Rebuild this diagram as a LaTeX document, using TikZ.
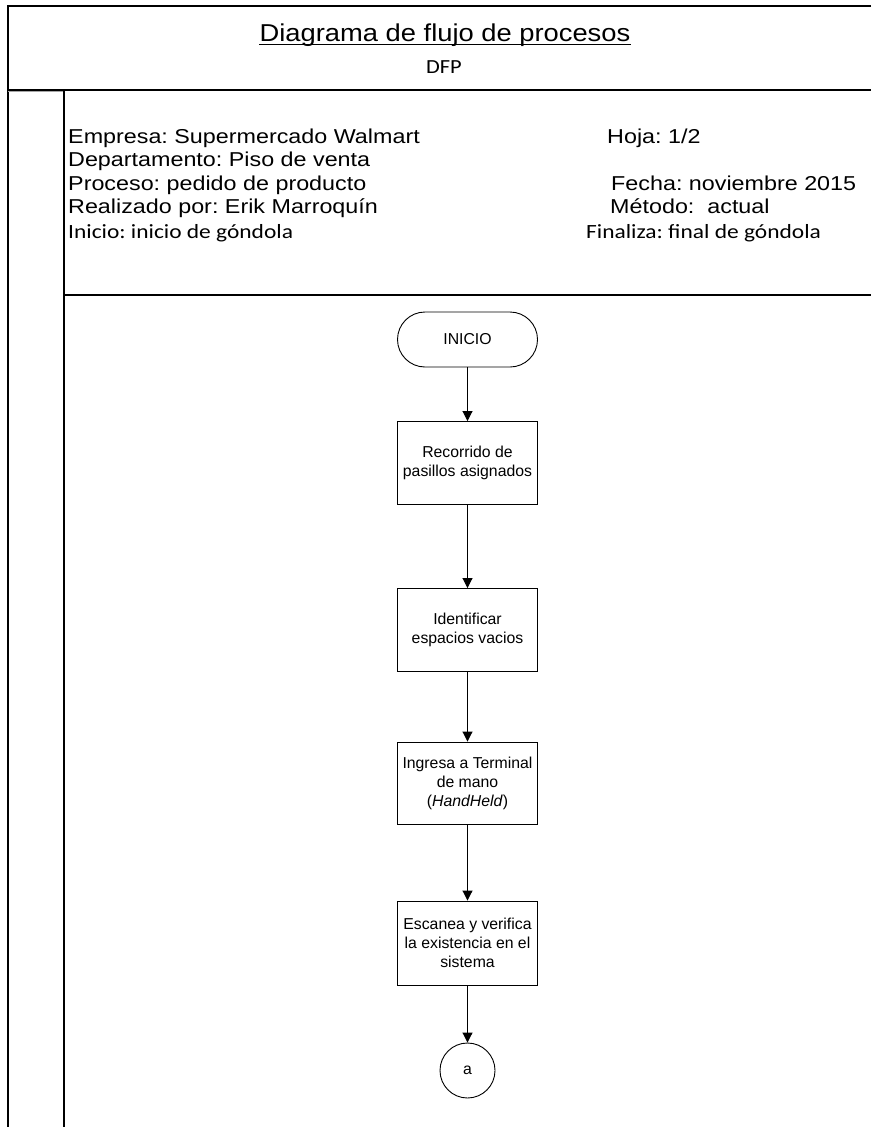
\documentclass[tikz,border=0pt]{standalone}
\usepackage{fontspec}
\usetikzlibrary{arrows.meta}
\setmainfont{Liberation Sans}
\newfontfamily\hdrfont[FakeStretch=1.16]{Liberation Sans}
\newfontfamily\hdrcal[FakeStretch=1.16]{Carlito}
\newfontfamily\ttlfont[FakeStretch=1.12]{Liberation Sans}
\newfontfamily\ttlcal[FakeStretch=1.12]{Carlito}
\frenchspacing
\begin{document}
\begin{tikzpicture}[x=1pt,y=-1pt,
  frame/.style={line width=1.3pt,black},
  info/.style={anchor=base west,inner sep=0pt,font=\hdrfont\fontsize{20.1}{22}\selectfont},
  infocal/.style={anchor=base west,inner sep=0pt,font=\hdrcal\fontsize{20.2}{22}\selectfont},
  proc/.style={draw,line width=0.9pt,minimum width=140pt,align=center,inner sep=2pt,
    font=\fontsize{15.8}{19}\selectfont},
  term/.style={proc,minimum height=55pt,rounded corners=27.5pt},
  conn/.style={draw,circle,line width=0.9pt,minimum size=55pt,inner sep=0pt,
    font=\fontsize{15.8}{19}\selectfont},
  flow/.style={line width=0.9pt,-{Triangle[length=10pt,width=10pt]}}]
\useasboundingbox (0,0) rectangle (871,1127);

% sheet frame
\draw[frame] (871,6) -- (8,6) -- (8,1127);
\draw[frame] (8,90) -- (871,90);
\draw[line width=1pt,gray!70] (8,91.5) -- (64,91.5);
\draw[frame] (64,90) -- (64,1127);
\draw[frame] (64,295) -- (871,295);

% title block
\node[anchor=base,inner sep=0pt,font=\ttlfont\fontsize{24.4}{28}\selectfont] (title) at (445,41) {Diagrama de flujo de procesos};
\draw[line width=1.5pt] ([yshift=-3.5pt]title.base west) -- ([yshift=-3.5pt]title.base east);
\node[anchor=base,inner sep=0pt,font=\ttlcal\fontsize{20}{24}\selectfont] (dfp) at (444,73) {DFP};

% process data
\node[info] (empresa) at (68,143) {Empresa: Supermercado Walmart};
\node[info] (depto) at (68,166.5) {Departamento: Piso de venta};
\node[info] (proceso) at (68,190) {Proceso: pedido de producto};
\node[info] (autor) at (68,213.5) {Realizado por: Erik Marroquín};
\node[infocal] (inicio) at (68,238) {Inicio: inicio de góndola};
\node[info] (hoja) at (607,143) {Hoja: 1/2};
\node[info] (fecha) at (611,190) {Fecha: noviembre 2015};
\node[info] (metodo) at (610,213.5) {Método:\ \ actual};
\node[infocal] (finaliza) at (586,238) {Finaliza: final de góndola};

% flow chart
\node[term] (ini) at (467.5,339.5) {INICIO};
\node[proc,minimum height=83pt] (b1) at (467.5,463) {Recorrido de\\pasillos asignados};
\node[proc,minimum height=83pt] (b2) at (467.5,630) {Identificar\\espacios vacios};
\node[proc,minimum height=82pt] (b3) at (467.5,783) {Ingresa a Terminal\\de mano\\(\textit{HandHeld})};
\node[proc,minimum height=84pt] (b4) at (467.5,943) {Escanea y verifica\\la existencia en el\\sistema};
\node[conn] (ca) at (467.5,1070.5) {a};

\draw[flow] (ini) -- (b1);
\draw[flow] (b1) -- (b2);
\draw[flow] (b2) -- (b3);
\draw[flow] (b3) -- (b4);
\draw[flow] (b4) -- (ca);
\end{tikzpicture}
\end{document}
